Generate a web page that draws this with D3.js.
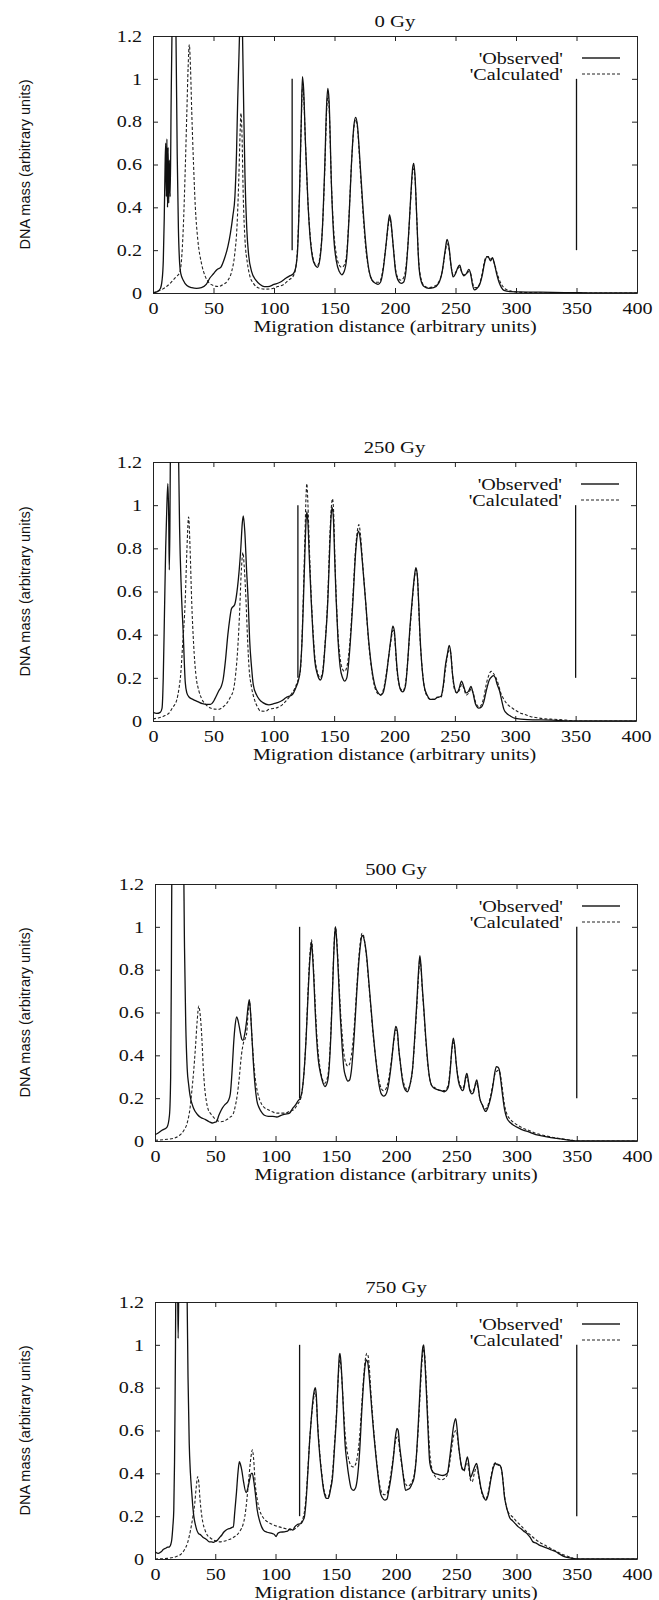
<!DOCTYPE html>
<html>
<head>
<meta charset="utf-8">
<script src="https://cdn.jsdelivr.net/npm/d3@7"></script>
<style>
	body { margin: 0; background: #fff; }
	svg text { font-family: "Liberation Serif", "Times New Roman", serif; fill: #111; }
	.axis path, .axis line { stroke: #222; stroke-width: 1; }
	.ylabel { font-family: "Liberation Sans", Arial, sans-serif !important; }
</style>
</head>
<body>
<div id="chart"></div>
<script>
//Chart values
var doses = ["0 Gy", "250 Gy", "500 Gy", "750 Gy"];
var seriesNames = ["'Observed'", "'Calculated'"];
var xTicks = [0, 50, 100, 150, 200, 250, 300, 350, 400];
var yTicks = [0, 0.2, 0.4, 0.6, 0.8, 1, 1.2];
var markerRange = [0.2, 1.0];

var obs0 = [[0,0],[3,0.005],[6,0.02],[7.5,0.06],[8.5,0.15],[9.3,0.35],[10,0.6],[10.5,0.7],[11,0.45],[11.5,0.72],[12,0.4],[12.5,0.68],[13,0.42],[13.5,0.62],[14.2,0.45],[15,0.9],[16,1.35],[17,1.5],[18,1.45],[19,1.2],[20,0.65],[21,0.3],[22,0.14],[23,0.09],[25,0.06],[28,0.035],[32,0.025],[36,0.022],[40,0.025],[44,0.04],[47,0.07],[50,0.09],[53,0.11],[56,0.12],[59,0.16],[62,0.22],[64,0.28],[66,0.36],[67.7,0.45],[69,0.65],[70,0.9],[71,1.1],[72,1.3],[73,1.4],[74,1.2],[75,0.85],[76,0.55],[77.5,0.3],[79,0.18],[81.5,0.1],[85,0.06],[88.5,0.04],[92,0.03],[95,0.03],[100,0.04],[105,0.05],[110,0.07],[113,0.08],[116,0.09],[118,0.12],[119.5,0.2],[121,0.45],[122.5,0.8],[123.5,1.01],[124.5,0.95],[126,0.7],[128,0.43],[130,0.25],[132,0.16],[134,0.13],[136,0.12],[138,0.16],[140,0.3],[142,0.6],[143.5,0.88],[144.5,0.955],[145.5,0.9],[147.5,0.5],[149.5,0.25],[151.5,0.15],[154,0.1],[156,0.085],[158,0.1],[160,0.16],[162,0.35],[164,0.6],[166,0.78],[167.5,0.82],[169,0.78],[171,0.62],[173.5,0.4],[176,0.22],[178.7,0.1],[181,0.06],[184,0.045],[186,0.04],[188,0.05],[190,0.1],[192.5,0.22],[194.5,0.33],[195.5,0.365],[196.5,0.34],[198.5,0.22],[200.5,0.1],[202.5,0.06],[205,0.045],[207,0.05],[209,0.1],[211,0.25],[213,0.45],[214.5,0.58],[215.5,0.605],[216.5,0.55],[218,0.35],[219.5,0.15],[221,0.07],[224,0.03],[228,0.022],[232,0.025],[236,0.045],[239,0.1],[241.5,0.2],[243,0.25],[244.5,0.22],[246.5,0.12],[248,0.075],[250,0.09],[252,0.12],[253.5,0.13],[255,0.1],[257,0.08],[259,0.09],[261,0.11],[262.5,0.09],[264,0.04],[265.5,0.015],[267.5,0.02],[270,0.04],[272,0.08],[274,0.14],[276,0.17],[277.5,0.165],[279,0.15],[280.5,0.165],[282,0.14],[284,0.09],[286,0.05],[288,0.025],[290,0.012],[295,0.006],[300,0.005],[320,0.004],[340,0.002],[360,0.001],[400,0]];
var calc0 = [[0,0],[5,0.01],[10,0.025],[15,0.05],[19,0.075],[22,0.095],[23.5,0.15],[25,0.3],[26.5,0.55],[28,0.85],[29,1.05],[30,1.16],[31,1.05],[32,0.85],[33.5,0.6],[35,0.4],[37,0.25],[40,0.14],[43,0.08],[46,0.05],[50,0.035],[54,0.03],[58,0.04],[62,0.06],[65,0.1],[67.5,0.18],[69.5,0.32],[71,0.55],[72,0.75],[72.7,0.84],[73.5,0.75],[74.6,0.45],[76,0.25],[78,0.14],[80,0.08],[83,0.045],[88,0.022],[93,0.018],[98,0.02],[103,0.03],[108,0.04],[112,0.06],[116,0.08],[118,0.12],[119.5,0.22],[121,0.45],[122.5,0.78],[123.5,0.96],[124.5,0.92],[126,0.7],[128,0.43],[130,0.26],[132,0.17],[134,0.135],[136,0.13],[138,0.17],[140,0.3],[142,0.58],[143.5,0.85],[144.5,0.92],[145.5,0.87],[147.5,0.5],[149.5,0.28],[151.5,0.18],[154,0.13],[156,0.12],[158,0.13],[160,0.18],[162,0.36],[164,0.6],[166,0.77],[167.5,0.81],[169,0.77],[171,0.6],[173.5,0.38],[176,0.2],[178.7,0.1],[181,0.06],[184,0.05],[186,0.05],[188,0.06],[190,0.11],[192.5,0.22],[194.5,0.32],[195.5,0.35],[196.5,0.33],[198.5,0.22],[200.5,0.11],[202.5,0.07],[205,0.06],[207,0.07],[209,0.12],[211,0.25],[213,0.44],[214.5,0.56],[215.5,0.58],[216.5,0.54],[218,0.35],[219.5,0.16],[221,0.08],[224,0.035],[228,0.025],[232,0.03],[236,0.05],[239,0.1],[241.5,0.19],[243,0.23],[244.5,0.21],[246.5,0.12],[248,0.085],[250,0.095],[252,0.115],[253.5,0.12],[255,0.1],[257,0.085],[259,0.09],[261,0.1],[262.5,0.09],[264,0.05],[265.5,0.025],[267.5,0.025],[270,0.045],[272,0.09],[274,0.15],[276,0.17],[277.5,0.17],[279,0.16],[280.5,0.16],[282,0.14],[284,0.1],[286,0.065],[288,0.04],[291,0.02],[295,0.01],[300,0.005],[310,0.002],[330,0],[400,0]];
var markers0 = [115, 350];

var obs250 = [[0,0.04],[3,0.035],[6,0.04],[7.5,0.06],[8.5,0.2],[9.5,0.5],[10.5,0.8],[11.5,1.0],[12.3,1.1],[13,0.95],[13.5,0.7],[14,0.9],[14.6,1.4],[16,1.6],[18,1.6],[20,1.55],[21,1.3],[22,0.9],[23.5,0.6],[25,0.41],[26.7,0.18],[28,0.13],[30,0.11],[33,0.1],[37,0.09],[41,0.08],[44,0.077],[47.6,0.077],[50,0.09],[51,0.1],[54.5,0.14],[56.5,0.16],[58,0.19],[60,0.28],[62,0.4],[63.5,0.47],[65,0.52],[67.7,0.54],[70,0.62],[72.6,0.79],[74,0.92],[74.8,0.95],[76,0.88],[77.5,0.7],[78.8,0.56],[80,0.38],[81.6,0.25],[83,0.17],[85.8,0.12],[88,0.1],[91,0.085],[96,0.075],[100,0.08],[103,0.085],[107,0.095],[110,0.108],[113,0.115],[115,0.12],[118.7,0.16],[120.5,0.19],[122,0.24],[123.5,0.38],[124.6,0.56],[125.8,0.78],[126.7,0.92],[127.4,0.97],[128.3,0.92],[129.5,0.75],[131,0.56],[132.5,0.4],[134,0.28],[136,0.22],[138.5,0.19],[140.5,0.22],[142.5,0.35],[144.8,0.56],[146.5,0.82],[147.5,0.95],[148.3,0.99],[149.3,0.95],[150.5,0.75],[151.7,0.56],[153.2,0.38],[155,0.25],[157,0.2],[158.7,0.185],[160.5,0.2],[162.5,0.3],[165.6,0.56],[167.8,0.78],[169.2,0.86],[170.2,0.88],[171.5,0.85],[173.5,0.73],[176,0.56],[178.5,0.38],[181,0.25],[183.5,0.17],[186.5,0.13],[188.5,0.12],[190.5,0.13],[193,0.2],[195,0.29],[197,0.38],[198.6,0.44],[199.8,0.42],[201,0.33],[202,0.25],[203.8,0.17],[205.5,0.14],[207,0.135],[209,0.16],[211,0.28],[212.5,0.41],[214.5,0.55],[216.5,0.67],[217.7,0.71],[218.8,0.68],[220,0.55],[221,0.41],[222.5,0.27],[224.6,0.16],[227,0.12],[229.8,0.1],[233,0.1],[235,0.108],[238.5,0.115],[240.5,0.17],[242,0.25],[243.8,0.31],[245.3,0.35],[246.5,0.32],[248,0.22],[249.5,0.16],[251.7,0.13],[253.5,0.15],[255.5,0.185],[257.3,0.16],[259.4,0.13],[261.5,0.14],[263.3,0.16],[265,0.13],[267,0.08],[269.8,0.06],[272,0.065],[274,0.09],[276,0.14],[278.5,0.19],[280.5,0.205],[282,0.21],[283.5,0.2],[285,0.17],[287,0.14],[289,0.09],[290.6,0.054],[293,0.035],[296,0.023],[300,0.012],[310,0.006],[330,0.004],[350,0],[400,0]];
var calc250 = [[0,0.01],[5,0.015],[10,0.025],[13,0.035],[16,0.06],[19.8,0.1],[21.5,0.15],[23,0.22],[24.5,0.35],[26.7,0.56],[28,0.78],[29.5,0.945],[30.7,0.8],[32,0.56],[33.7,0.35],[35.4,0.22],[38,0.14],[40.6,0.1],[44,0.075],[47.6,0.06],[51,0.055],[54.5,0.054],[58,0.065],[61.5,0.085],[64,0.11],[66.7,0.146],[68.5,0.22],[70,0.32],[71.7,0.5],[73,0.68],[74.5,0.78],[75.5,0.72],[77,0.56],[78.3,0.38],[79.5,0.25],[81.5,0.16],[84,0.1],[86.5,0.065],[89,0.046],[93,0.045],[96,0.054],[103,0.062],[107,0.075],[110,0.092],[114,0.12],[117,0.146],[119.5,0.18],[122,0.23],[123.5,0.4],[124.6,0.6],[125.8,0.85],[126.8,1.05],[127.4,1.1],[128.2,1.02],[129.5,0.8],[131,0.58],[132.5,0.42],[134,0.3],[136,0.23],[138.5,0.2],[140.5,0.23],[142.5,0.36],[144.8,0.58],[146.5,0.86],[147.7,0.99],[148.6,1.03],[149.5,0.98],[150.5,0.78],[151.7,0.58],[153.2,0.4],[155,0.29],[157,0.24],[158.7,0.23],[160.5,0.25],[162.5,0.33],[165.6,0.58],[167.8,0.8],[169.5,0.89],[170.5,0.91],[171.7,0.87],[173.5,0.74],[176,0.56],[178.5,0.37],[181,0.24],[183.5,0.16],[186.5,0.125],[188.5,0.12],[190.5,0.14],[193,0.21],[195,0.29],[197,0.37],[198.8,0.42],[200,0.4],[201,0.32],[202,0.24],[203.8,0.17],[205.5,0.145],[207,0.14],[209,0.17],[211,0.28],[212.5,0.4],[214.5,0.54],[216.5,0.66],[217.9,0.7],[219,0.67],[220,0.54],[221,0.4],[222.5,0.27],[224.6,0.16],[227,0.115],[229.8,0.1],[233,0.1],[235,0.11],[238.5,0.11],[240.5,0.16],[242,0.23],[243.8,0.3],[245.5,0.33],[246.7,0.31],[248,0.22],[249.5,0.15],[251.7,0.13],[253.5,0.14],[255.8,0.17],[257.5,0.15],[259.4,0.12],[261.5,0.13],[263.5,0.15],[265.2,0.13],[267,0.09],[270,0.065],[272,0.075],[274,0.11],[276,0.17],[278,0.21],[280,0.23],[282,0.22],[284,0.2],[286,0.17],[288,0.13],[290.6,0.1],[294,0.075],[297.5,0.06],[303,0.04],[308,0.03],[313,0.02],[318,0.015],[325,0.01],[332,0.008],[342,0.004],[350,0],[400,0]];
var markers250 = [120, 350];

var obs500 = [[0,0.03],[2,0.035],[5.8,0.05],[10,0.065],[12,0.12],[13,0.3],[13.6,0.8],[14,1.3],[15,1.5],[20,1.5],[23.5,1.4],[24.5,0.9],[25.5,0.55],[26.7,0.34],[28,0.26],[29,0.215],[32,0.153],[35,0.125],[38,0.11],[42,0.1],[45,0.09],[47.5,0.084],[50,0.088],[51,0.09],[53,0.12],[54.4,0.138],[56,0.155],[58,0.17],[60,0.18],[61,0.19],[62.5,0.22],[64,0.33],[65.2,0.45],[66.5,0.54],[67.8,0.58],[69,0.56],[70.7,0.51],[72,0.475],[73,0.47],[74.5,0.5],[76,0.56],[77.3,0.63],[78.3,0.66],[79.3,0.6],[80.4,0.49],[81.7,0.36],[83,0.26],[84.5,0.19],[86.6,0.153],[89,0.13],[90.8,0.12],[94,0.115],[97.7,0.115],[101,0.112],[104.7,0.12],[108,0.125],[111.6,0.13],[114,0.15],[116.8,0.17],[119,0.19],[120.5,0.2],[122,0.23],[123.8,0.33],[125.5,0.49],[127,0.68],[128.2,0.82],[129.3,0.9],[129.9,0.93],[130.6,0.88],[131.7,0.77],[133,0.6],[134,0.49],[135.5,0.38],[137.6,0.31],[139.5,0.27],[141,0.254],[142.8,0.27],[144.5,0.34],[146,0.5],[147.2,0.68],[148.2,0.85],[149.1,0.96],[149.8,1.0],[150.6,0.95],[151.5,0.86],[152.8,0.7],[153.9,0.57],[155.3,0.44],[156.7,0.34],[158.3,0.3],[160,0.28],[161.5,0.285],[163,0.33],[165.3,0.49],[167.5,0.7],[169.2,0.84],[170.6,0.92],[171.8,0.96],[172.8,0.955],[174,0.93],[175.7,0.86],[177.5,0.74],[179,0.64],[180.8,0.52],[182.7,0.41],[184.5,0.32],[186,0.26],[187.8,0.22],[189.6,0.21],[191.3,0.215],[193,0.24],[194.8,0.3],[196.5,0.38],[198.3,0.48],[199.8,0.535],[201.2,0.51],[202.3,0.43],[203.5,0.37],[205.2,0.29],[207,0.246],[209.4,0.23],[211.5,0.26],[213.8,0.34],[215.5,0.48],[217.3,0.65],[218.8,0.8],[219.8,0.865],[220.7,0.82],[221.8,0.72],[223.2,0.61],[224.6,0.49],[226,0.39],[227.7,0.3],[229.5,0.26],[232,0.245],[234.6,0.24],[237.5,0.235],[240,0.23],[243.3,0.25],[245,0.33],[246.5,0.44],[247.6,0.48],[248.6,0.45],[250,0.36],[251.8,0.28],[253.7,0.246],[255.4,0.235],[256.5,0.25],[257.8,0.3],[258.8,0.316],[259.8,0.29],[261.3,0.235],[263,0.22],[264.5,0.23],[266,0.27],[267,0.285],[268,0.26],[269.5,0.2],[271.5,0.17],[274.5,0.138],[276.5,0.16],[278.5,0.2],[280.5,0.26],[282,0.32],[283.3,0.347],[284.5,0.345],[285.6,0.335],[286.8,0.29],[288.4,0.215],[290,0.15],[291.8,0.11],[295,0.085],[298,0.072],[302,0.06],[305,0.052],[309,0.045],[316,0.03],[323,0.022],[333,0.012],[344,0.004],[350,0],[400,0]];
var calc500 = [[0,0.003],[10,0.008],[15,0.012],[20,0.025],[24,0.05],[27,0.09],[29,0.15],[30.5,0.23],[32,0.32],[33.6,0.44],[35,0.56],[36.3,0.63],[37.3,0.6],[38.8,0.49],[40,0.35],[41.2,0.25],[42.5,0.19],[44,0.15],[46.5,0.125],[49.2,0.107],[52,0.095],[54.4,0.09],[57,0.092],[59.6,0.1],[62,0.11],[64.8,0.125],[66.5,0.16],[68.3,0.215],[70,0.3],[71.7,0.4],[73.5,0.46],[75,0.48],[76,0.5],[77.3,0.6],[78.4,0.65],[79.3,0.6],[80.4,0.49],[81.7,0.38],[83,0.3],[85,0.23],[87,0.19],[90,0.16],[94,0.146],[98,0.135],[101,0.13],[108,0.13],[112,0.14],[115,0.146],[119,0.177],[120.5,0.19],[122,0.23],[123.8,0.33],[125.5,0.5],[127,0.7],[128.2,0.84],[129.3,0.92],[129.9,0.94],[130.6,0.9],[131.7,0.79],[133,0.63],[134,0.52],[135.5,0.41],[137.6,0.32],[139.5,0.28],[141,0.27],[142.8,0.29],[144.5,0.36],[146,0.52],[147.2,0.7],[148.2,0.86],[149.1,0.97],[149.8,1.0],[150.6,0.96],[151.5,0.88],[152.8,0.73],[153.9,0.61],[155.3,0.5],[156.7,0.41],[158.3,0.365],[160,0.35],[161.5,0.36],[163,0.4],[165.3,0.53],[167.5,0.72],[169.2,0.86],[170.6,0.94],[171.8,0.97],[172.8,0.965],[174,0.93],[175.7,0.85],[177.5,0.73],[179,0.63],[180.8,0.51],[182.7,0.41],[184.5,0.33],[186,0.28],[187.8,0.245],[189.6,0.235],[191.3,0.24],[193,0.265],[194.8,0.32],[196.5,0.39],[198.3,0.47],[199.8,0.52],[201.2,0.5],[202.3,0.43],[203.5,0.37],[205.2,0.3],[207,0.26],[209.4,0.24],[211.5,0.26],[213.8,0.34],[215.5,0.47],[217.3,0.63],[218.8,0.78],[219.8,0.85],[220.7,0.81],[221.8,0.71],[223.2,0.6],[224.6,0.48],[226,0.38],[227.7,0.3],[229.5,0.26],[232,0.25],[234.6,0.24],[237.5,0.235],[240,0.235],[243.3,0.26],[245,0.34],[246.5,0.43],[247.8,0.46],[248.8,0.43],[250,0.36],[251.8,0.29],[253.7,0.255],[255.4,0.245],[256.5,0.26],[257.8,0.29],[258.8,0.3],[259.8,0.28],[261.3,0.24],[263,0.23],[264.5,0.24],[266,0.26],[267,0.27],[268,0.25],[269.5,0.2],[271.5,0.17],[274.5,0.15],[276.5,0.17],[278.5,0.21],[280.5,0.27],[282,0.31],[283.5,0.325],[285,0.33],[286.2,0.32],[287.2,0.29],[288.6,0.23],[290,0.17],[291.8,0.13],[295,0.1],[298,0.085],[302,0.07],[306,0.058],[310,0.05],[316,0.036],[323,0.026],[333,0.014],[344,0.005],[350,0],[400,0]];
var markers500 = [120, 350];

var obs750 = [[0,0.034],[2.8,0.026],[5.2,0.034],[7,0.045],[8.7,0.05],[10.5,0.055],[12,0.057],[13.2,0.07],[13.9,0.09],[14.8,0.15],[15.6,0.23],[16.2,0.45],[16.6,0.69],[17,1.0],[17.3,1.3],[18,1.5],[18.6,1.4],[19.2,1.03],[19.8,1.3],[20.5,1.5],[24,1.5],[26,1.45],[26.7,1.2],[27.4,0.85],[28.4,0.54],[29.4,0.4],[30.5,0.31],[31.3,0.25],[32.2,0.2],[33.5,0.16],[34.7,0.135],[36,0.12],[38,0.112],[40,0.1],[41.6,0.096],[43,0.09],[45,0.08],[47,0.08],[48.5,0.078],[50,0.082],[52,0.089],[53.5,0.1],[55.5,0.112],[57,0.125],[59,0.135],[60.5,0.14],[62.4,0.143],[64,0.148],[65,0.15],[66.2,0.22],[67.6,0.31],[68.8,0.4],[70,0.454],[71,0.44],[72,0.415],[73.5,0.36],[75.6,0.31],[77,0.33],[78.5,0.37],[80,0.4],[80.8,0.4],[81.8,0.37],[83.2,0.31],[84.8,0.23],[86.7,0.18],[88.5,0.15],[90,0.135],[93,0.125],[97,0.12],[99,0.115],[100.5,0.105],[102,0.12],[104,0.125],[107.4,0.127],[110,0.13],[112,0.14],[114.4,0.135],[116,0.15],[118,0.16],[119.5,0.163],[121.3,0.166],[122.8,0.18],[124,0.197],[125.5,0.28],[127,0.42],[128.2,0.54],[129.5,0.64],[131,0.74],[132.3,0.79],[133,0.8],[133.8,0.77],[135,0.62],[136.8,0.48],[138.6,0.38],[140,0.32],[141.4,0.29],[142.5,0.283],[143.8,0.283],[145.5,0.32],[147.3,0.38],[149,0.52],[150.8,0.69],[152,0.85],[153,0.95],[153.5,0.96],[154.3,0.92],[155.5,0.8],[156.7,0.65],[157.7,0.54],[159.3,0.45],[161,0.38],[162.8,0.33],[164.6,0.32],[166.3,0.33],[168,0.38],[169.8,0.5],[171.6,0.69],[173.3,0.84],[174.5,0.91],[175.4,0.93],[176.5,0.92],[177.5,0.87],[178.8,0.78],[180,0.69],[181.8,0.57],[183.7,0.46],[185.3,0.38],[187,0.31],[188.8,0.285],[190.6,0.275],[192.5,0.28],[194,0.32],[195.8,0.38],[197.8,0.47],[199.5,0.57],[200.8,0.61],[201.8,0.6],[203,0.53],[204.5,0.46],[206.2,0.38],[208,0.32],[209.7,0.325],[211.4,0.33],[213.2,0.35],[215,0.38],[216.8,0.47],[218.4,0.62],[220,0.8],[221.3,0.93],[222.3,0.99],[223,1.0],[223.8,0.94],[225.3,0.77],[226.6,0.6],[228,0.45],[230,0.41],[232,0.4],[235,0.395],[239,0.39],[242.6,0.4],[244.3,0.46],[246,0.54],[247.8,0.62],[249.5,0.655],[250.5,0.62],[251.8,0.54],[253,0.48],[254.5,0.43],[256.5,0.415],[258,0.45],[259.3,0.477],[260.5,0.44],[261.7,0.38],[263.4,0.4],[265.2,0.43],[266.9,0.446],[268.5,0.4],[270.3,0.337],[272.4,0.295],[274.5,0.275],[276.5,0.3],[279,0.38],[281,0.43],[282.5,0.446],[284.2,0.44],[286,0.438],[287.7,0.415],[289,0.35],[290,0.29],[291,0.26],[292.8,0.22],[294.6,0.19],[296.5,0.18],[299,0.165],[301.5,0.15],[304,0.14],[306,0.13],[308.5,0.12],[310,0.11],[311.5,0.1],[313.7,0.08],[316,0.075],[318.9,0.065],[322,0.058],[325.8,0.05],[329,0.042],[332.7,0.034],[336,0.022],[339.7,0.011],[343,0.006],[346.6,0.003],[352,0],[400,0]];
var calc750 = [[0,0],[10.4,0.003],[17.3,0.011],[21,0.02],[24.3,0.042],[27,0.075],[29.5,0.135],[31.5,0.2],[33,0.26],[34.3,0.34],[35.4,0.384],[36.3,0.36],[37.4,0.275],[38.6,0.21],[39.9,0.166],[41.5,0.135],[43.3,0.112],[46,0.098],[48.5,0.089],[51,0.083],[53.7,0.08],[57,0.083],[60.7,0.089],[64,0.097],[65.9,0.104],[68.5,0.115],[71,0.135],[73,0.16],[74.5,0.197],[76.3,0.28],[78,0.384],[79.5,0.47],[80.8,0.51],[81.8,0.47],[83.2,0.35],[84.8,0.28],[86.7,0.23],[89,0.2],[91.8,0.18],[95,0.168],[98.8,0.158],[103,0.15],[107.4,0.143],[111,0.138],[114.4,0.135],[117,0.145],[119.6,0.158],[121.3,0.17],[122.8,0.19],[124,0.22],[125.5,0.3],[127,0.43],[128.2,0.54],[129.5,0.64],[131,0.72],[132.3,0.77],[133,0.78],[133.8,0.75],[135,0.63],[136.8,0.49],[138.6,0.39],[140,0.33],[141.4,0.3],[142.5,0.29],[143.8,0.29],[145.5,0.33],[147.3,0.4],[149,0.54],[150.8,0.7],[152,0.84],[153,0.92],[153.5,0.93],[154.3,0.9],[155.5,0.8],[156.7,0.68],[157.7,0.59],[159.3,0.51],[161,0.46],[162.8,0.435],[164.6,0.43],[166.3,0.44],[168,0.48],[169.8,0.57],[171.6,0.72],[173.3,0.86],[174.5,0.93],[175.8,0.96],[176.8,0.95],[177.8,0.9],[178.8,0.81],[180,0.71],[181.8,0.58],[183.7,0.47],[185.3,0.39],[187,0.33],[188.8,0.305],[190.6,0.3],[192.5,0.305],[194,0.34],[195.8,0.4],[197.8,0.48],[199.5,0.55],[201,0.57],[202,0.56],[203,0.51],[204.5,0.45],[206.2,0.39],[208,0.35],[210,0.34],[211.4,0.345],[213.2,0.36],[215,0.39],[216.8,0.47],[218.4,0.6],[220,0.77],[221.3,0.9],[222.5,0.97],[223.2,0.98],[224,0.94],[225.3,0.8],[226.6,0.64],[228,0.5],[229.5,0.43],[232,0.39],[235,0.375],[238,0.37],[241,0.38],[243,0.4],[244.6,0.45],[246.3,0.52],[248,0.58],[249.8,0.6],[250.8,0.58],[252,0.52],[253.3,0.47],[254.8,0.42],[256.5,0.41],[258,0.44],[259.3,0.45],[260.5,0.42],[261.8,0.37],[263.2,0.36],[265,0.4],[266.9,0.43],[268.5,0.39],[270.3,0.33],[272.4,0.29],[274.5,0.28],[276.5,0.31],[279,0.39],[281,0.44],[283,0.45],[285,0.44],[287,0.43],[288.5,0.38],[290,0.3],[291.5,0.245],[293,0.22],[295,0.205],[297,0.195],[300,0.175],[303,0.16],[307,0.135],[311,0.115],[315,0.095],[320,0.075],[325,0.06],[330,0.045],[335,0.03],[340,0.018],[345,0.008],[350,0],[400,0]];
var markers750 = [120, 350];

var panels = [
	{ title: doses[0], obs: obs0, calc: calc0, markers: markers0 },
	{ title: doses[1], obs: obs250, calc: calc250, markers: markers250 },
	{ title: doses[2], obs: obs500, calc: calc500, markers: markers500 },
	{ title: doses[3], obs: obs750, calc: calc750, markers: markers750 }
];

//Where each plot box sits on the page
var frames = [
	{ left: 153, right: 637, top: 36, bottom: 293 },
	{ left: 153, right: 636, top: 462, bottom: 721 },
	{ left: 155, right: 637, top: 884, bottom: 1141 },
	{ left: 155, right: 637, top: 1302, bottom: 1559 }
];

var stretch = 1.22; //scanned serif text is a bit wide
var fontSize = "16.5px";

var svg = d3.select("#chart")
	.append("svg")
	.attr("width", 659)
	.attr("height", 1600);

panels.forEach(function(p, i) {
	var f = frames[i];
	var width = f.right - f.left;
	var height = f.bottom - f.top;

	var g = svg.append("g")
		.attr("transform", "translate(" + f.left + "," + f.top + ")");

	//Scales
	var x = d3.scaleLinear().domain([0, 400]).range([0, width]);
	var y = d3.scaleLinear().domain([0, 1.2]).range([height, 0]);

	//Clip so the saturated peaks stop at the frame
	g.append("clipPath")
		.attr("id", "clip" + i)
		.append("rect")
		.attr("width", width)
		.attr("height", height);

	//Axes, ticks inside on all four sides
	var fmt = d3.format("~g");
	g.append("g")
		.attr("class", "axis")
		.attr("transform", "translate(0," + height + ")")
		.call(d3.axisBottom(x).tickValues(xTicks).tickSizeInner(-5).tickSizeOuter(0).tickPadding(9.6).tickFormat(fmt))
		.selectAll("text")
		.attr("transform", "scale(" + stretch + ",1)")
		.style("font-size", fontSize);

	g.append("g")
		.attr("class", "axis")
		.call(d3.axisLeft(y).tickValues(yTicks).tickSizeInner(-5).tickSizeOuter(0).tickPadding(9).tickFormat(fmt))
		.selectAll("text")
		.attr("transform", "scale(" + stretch + ",1)")
		.style("font-size", fontSize);

	g.append("g")
		.attr("class", "axis")
		.call(d3.axisTop(x).tickValues(xTicks).tickSizeInner(-5).tickSizeOuter(0).tickFormat(""));

	g.append("g")
		.attr("class", "axis")
		.attr("transform", "translate(" + width + ",0)")
		.call(d3.axisRight(y).tickValues(yTicks).tickSizeInner(-5).tickSizeOuter(0).tickFormat(""));

	//Title
	g.append("text")
		.attr("transform", "translate(" + width / 2 + ",-9.5) scale(" + stretch + ",1)")
		.attr("text-anchor", "middle")
		.style("font-size", "17px")
		.text(p.title);

	//x axis label
	g.append("text")
		.attr("transform", "translate(" + width / 2 + "," + (height + 38.5) + ") scale(" + stretch + ",1)")
		.attr("text-anchor", "middle")
		.style("font-size", fontSize)
		.text("Migration distance (arbitrary units)");

	//y axis label
	g.append("text")
		.attr("class", "ylabel")
		.attr("transform", "translate(" + (25 - f.left) + "," + height / 2 + ") rotate(-90)")
		.attr("text-anchor", "middle")
		.attr("dy", "0.35em")
		.style("font-size", "14.5px")
		.text("DNA mass (arbitrary units)");

	var line = d3.line()
		.x(function(d) { return x(d[0]); })
		.y(function(d) { return y(d[1]); })
		.curve(d3.curveMonotoneX);

	var plot = g.append("g").attr("clip-path", "url(#clip" + i + ")");

	//Calculated (dashed)
	plot.append("path")
		.datum(p.calc)
		.attr("fill", "none")
		.attr("stroke", "#222")
		.attr("stroke-width", 1.1)
		.attr("stroke-dasharray", "3,2")
		.attr("d", line);

	//Observed (solid)
	plot.append("path")
		.datum(p.obs)
		.attr("fill", "none")
		.attr("stroke", "#111")
		.attr("stroke-width", 1.3)
		.attr("d", line);

	//Lane marker lines
	plot.selectAll(".marker")
		.data(p.markers)
		.enter()
		.append("line")
		.attr("class", "marker")
		.attr("x1", function(d) { return x(d); })
		.attr("x2", function(d) { return x(d); })
		.attr("y1", y(markerRange[0]))
		.attr("y2", y(markerRange[1]))
		.attr("stroke", "#111")
		.attr("stroke-width", 1.3);

	//Legend
	var legend = g.selectAll(".legend")
		.data(seriesNames)
		.enter()
		.append("g")
		.attr("class", "legend")
		.attr("transform", function(d, j) { return "translate(0," + (22 + j * 16) + ")"; });

	legend.append("text")
		.attr("transform", "translate(" + (width - 74) + ",6) scale(" + stretch + ",1)")
		.attr("text-anchor", "end")
		.style("font-size", fontSize)
		.text(function(d) { return d; });

	legend.append("line")
		.attr("x1", width - 55)
		.attr("x2", width - 17)
		.attr("stroke", "#222")
		.attr("stroke-width", function(d, j) { return j === 0 ? 1.3 : 1.1; })
		.attr("stroke-dasharray", function(d, j) { return j === 0 ? null : "3,2"; });
});
</script>
</body>
</html>
